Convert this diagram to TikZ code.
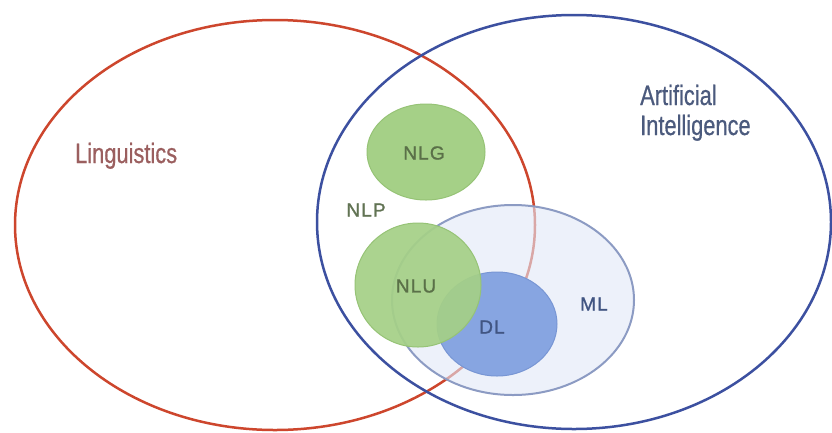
\documentclass[tikz,border=0pt]{standalone}
\usepackage{fontspec}
\setmainfont{Liberation Sans}
\newfontfamily\narrowfont[FakeStretch=0.78,FakeBold=0.6]{Liberation Sans}
\newfontfamily\tagfont[LetterSpace=6,FakeBold=1.2]{Liberation Sans}
\definecolor{lingred}{RGB}{205,70,45}
\definecolor{lingtext}{RGB}{155,95,95}
\definecolor{aiblue}{RGB}{60,80,160}
\definecolor{aitext}{RGB}{75,90,125}
\definecolor{nlpgreen}{RGB}{165,208,135}
\definecolor{nlpedge}{RGB}{150,195,118}
\definecolor{nlptext}{RGB}{90,112,72}
\definecolor{mlfill}{RGB}{226,233,248}
\definecolor{mledge}{RGB}{140,155,195}
\definecolor{dlfill}{RGB}{135,165,225}
\definecolor{dledge}{RGB}{120,150,212}
\definecolor{mltext}{RGB}{65,85,130}
\begin{document}
\begin{tikzpicture}[x=1pt,y=-1pt,
    bigtitle/.style={font=\narrowfont\fontsize{28}{30}\selectfont, inner sep=0pt, anchor=base west},
    tag/.style={font=\tagfont\fontsize{19}{21}\selectfont, inner sep=0pt}]
    \fill[white] (0,0) rectangle (832,432);
    \useasboundingbox (0,0) rectangle (832,432);

    % Linguistics
    \draw[lingred,line width=2.5pt] (275,225) ellipse [x radius=260pt, y radius=205pt];
    \node[bigtitle,lingtext] (ling) at (75,163) {Linguistics};

    % Artificial Intelligence
    \draw[aiblue,line width=2.5pt] (574,222) ellipse [x radius=257pt, y radius=207pt];
    \node[bigtitle,aitext] (ai) at (640,105) {Artificial};
    \node[bigtitle,aitext] (aib) at (640,135) {Intelligence};

    % Machine learning
    \filldraw[draw=mledge,fill=mlfill,fill opacity=0.6,line width=2pt] (513,300) ellipse [x radius=121pt, y radius=95pt];
    \node[tag,mltext] (ml) at (594,304) {ML};

    % Deep learning
    \filldraw[draw=dledge,fill=dlfill,line width=1pt] (497,324) ellipse [x radius=60pt, y radius=52pt];

    % NLU and NLG
    \filldraw[draw=nlpedge,fill=nlpgreen,fill opacity=0.93,line width=1pt] (418,285) ellipse [x radius=63pt, y radius=62pt];
    \filldraw[draw=nlpedge,fill=nlpgreen,line width=1pt] (426,152) ellipse [x radius=59pt, y radius=48pt];

    \node[tag,mltext] (dl) at (492,327) {DL};
    \node[tag,nlptext] (nlu) at (416,286) {NLU};
    \node[tag,nlptext] (nlg) at (424,153) {NLG};
    \node[tag,nlptext!80!gray] (nlp) at (366,210) {NLP};
\end{tikzpicture}
\end{document}
